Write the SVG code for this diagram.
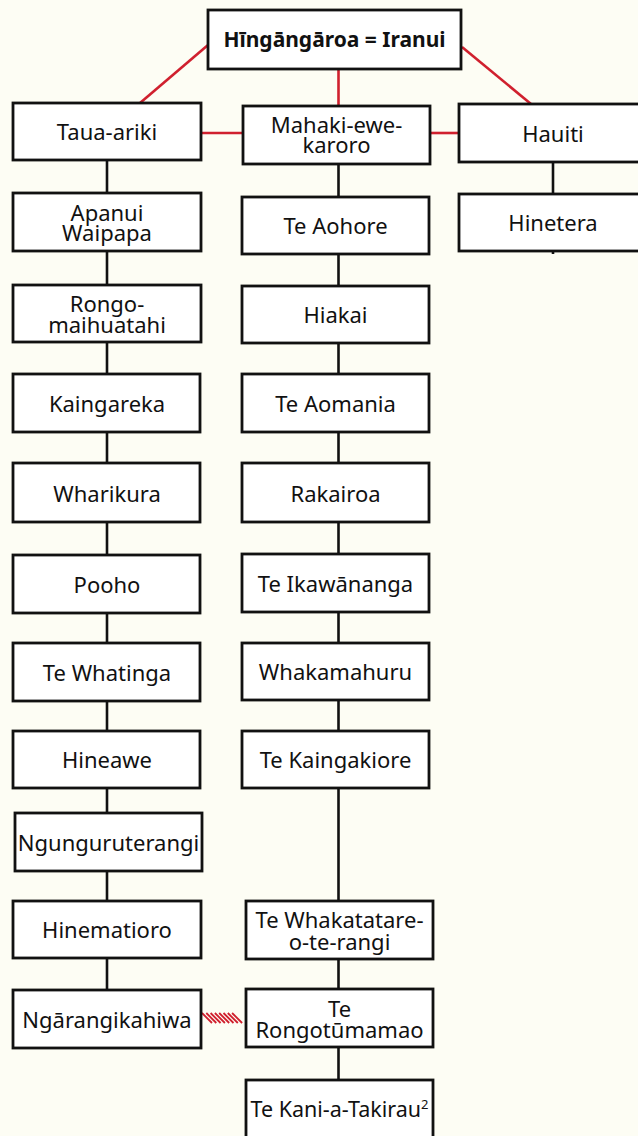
<svg xmlns="http://www.w3.org/2000/svg" width="638" height="1136" viewBox="0 0 638 1136">
<style>
.bg{fill:#fdfdf4}
.box{fill:#ffffff;stroke:#111111;stroke-width:2.8}
.t{font-family:"Noto Sans","Open Sans",sans-serif;font-size:22px;fill:#111111;text-anchor:middle}
.b{font-weight:bold;font-size:21px}
.k{stroke:#111111;stroke-width:2.6;fill:none}
.r{stroke:#d0202e;stroke-width:2.6;fill:none}
.h{stroke:#d0202e;stroke-width:1.8;fill:none}
</style>
<rect class="bg" x="0" y="0" width="638" height="1136"/>
<g id="connectors">
  <line class="r" x1="208" y1="45" x2="140" y2="103"/>
  <line class="r" x1="462" y1="47" x2="531" y2="104"/>
  <line class="r" x1="338.5" y1="69" x2="338.5" y2="106"/>
  <line class="r" x1="201" y1="133" x2="243" y2="133"/>
  <line class="r" x1="430" y1="133" x2="459" y2="133"/>
  <line class="k" x1="107" y1="160" x2="107" y2="990"/>
  <line class="k" x1="338.5" y1="164" x2="338.5" y2="1080"/>
  <line class="k" x1="553" y1="162" x2="553" y2="254"/>
  <path class="h" d="M202,1013 l10,10 M206.3,1013 l10,10 M210.6,1013 l10,10 M214.9,1013 l10,10 M219.2,1013 l10,10 M223.5,1013 l10,10 M227.8,1013 l10,10 M232.1,1013 l10,10"/>
</g>
<g id="n-top"><rect class="box" x="208" y="10" width="253" height="59"/><text class="t b" x="334.5" y="47">Hīngāngāroa = Iranui</text></g>
<g id="n-tauaariki"><rect class="box" x="13" y="103" width="188" height="57"/><text class="t" x="107" y="140">Taua-ariki</text></g>
<g id="n-mahaki"><rect class="box" x="243" y="106" width="187" height="58"/><text class="t" x="336.5" y="133">Mahaki-ewe-<tspan x="336.5" dy="20">karoro</tspan></text></g>
<g id="n-hauiti"><rect class="box" x="459" y="104" width="188" height="58"/><text class="t" x="553" y="142">Hauiti</text></g>
<g id="n-hinetera"><rect class="box" x="459" y="194" width="188" height="57"/><text class="t" x="553" y="231">Hinetera</text></g>
<g id="n-apanui"><rect class="box" x="13" y="193" width="188" height="58"/><text class="t" x="107" y="221">Apanui<tspan x="107" dy="20">Waipapa</tspan></text></g>
<g id="n-rongo"><rect class="box" x="13" y="285" width="188" height="57"/><text class="t" x="107" y="312">Rongo-<tspan x="107" dy="21">maihuatahi</tspan></text></g>
<g id="n-kaingareka"><rect class="box" x="13" y="374" width="187" height="58"/><text class="t" x="107" y="412">Kaingareka</text></g>
<g id="n-wharikura"><rect class="box" x="13" y="463" width="187" height="59"/><text class="t" x="107" y="502">Wharikura</text></g>
<g id="n-pooho"><rect class="box" x="13" y="555" width="187" height="58"/><text class="t" x="107" y="593">Pooho</text></g>
<g id="n-tewhatinga"><rect class="box" x="13" y="643" width="187" height="58"/><text class="t" x="107" y="681">Te Whatinga</text></g>
<g id="n-hineawe"><rect class="box" x="13" y="731" width="187" height="57"/><text class="t" x="107" y="768">Hineawe</text></g>
<g id="n-ngungu"><rect class="box" x="15" y="813" width="187" height="58"/><text class="t" x="108.5" y="851">Ngunguruterangi</text></g>
<g id="n-hinematioro"><rect class="box" x="13" y="901" width="188" height="57"/><text class="t" x="107" y="938">Hinematioro</text></g>
<g id="n-ngarangi"><rect class="box" x="13" y="990" width="188" height="58"/><text class="t" x="107" y="1028">Ngārangikahiwa</text></g>
<g id="n-teaohore"><rect class="box" x="242" y="197" width="187" height="57"/><text class="t" x="335.5" y="234">Te Aohore</text></g>
<g id="n-hiakai"><rect class="box" x="242" y="286" width="187" height="57"/><text class="t" x="335.5" y="323">Hiakai</text></g>
<g id="n-teaomania"><rect class="box" x="242" y="374" width="187" height="58"/><text class="t" x="335.5" y="412">Te Aomania</text></g>
<g id="n-rakairoa"><rect class="box" x="242" y="463" width="187" height="59"/><text class="t" x="335.5" y="502">Rakairoa</text></g>
<g id="n-teikawananga"><rect class="box" x="242" y="554" width="187" height="58"/><text class="t" x="335.5" y="592">Te Ikawānanga</text></g>
<g id="n-whakamahuru"><rect class="box" x="242" y="643" width="187" height="57"/><text class="t" x="335.5" y="680">Whakamahuru</text></g>
<g id="n-tekaingakiore"><rect class="box" x="242" y="731" width="187" height="57"/><text class="t" x="335.5" y="768">Te Kaingakiore</text></g>
<g id="n-whakatatare"><rect class="box" x="246" y="901" width="187" height="58"/><text class="t" x="339.5" y="928">Te Whakatatare-<tspan x="339.5" dy="22">o-te-rangi</tspan></text></g>
<g id="n-rongotumamao"><rect class="box" x="246" y="989" width="187" height="58"/><text class="t" x="339.5" y="1017">Te<tspan x="339.5" dy="21">Rongotūmamao</tspan></text></g>
<g id="n-tekani"><rect class="box" x="246" y="1080" width="187" height="70"/><text class="t" x="339.5" y="1117" style="font-size:21.5px">Te Kani-a-Takirau<tspan style="font-size:13px" dy="-8">2</tspan></text></g>
</svg>
